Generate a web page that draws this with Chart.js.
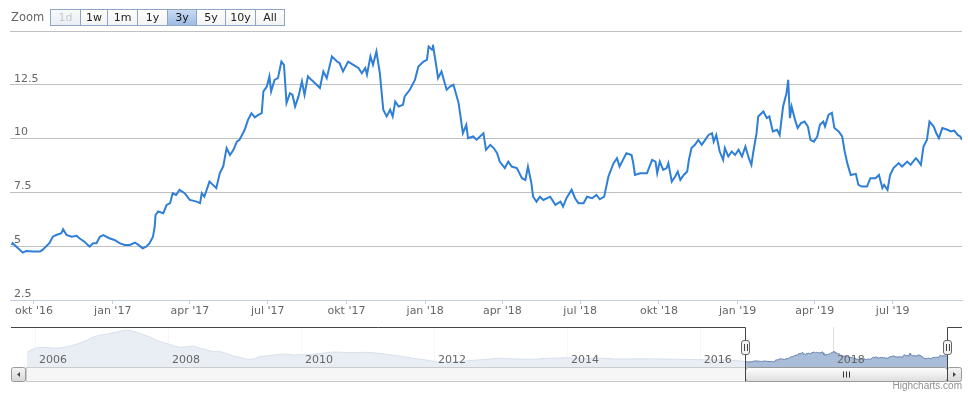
<!DOCTYPE html>
<html><head><meta charset="utf-8">
<script src="https://cdn.jsdelivr.net/npm/chart.js@4/dist/chart.umd.min.js"></script>
<style>
html,body{margin:0;padding:0;background:#fff;}
#wrap{position:relative;width:968px;height:393px;overflow:hidden;font-family:"DejaVu Sans",Verdana,sans-serif;}
#main{position:absolute;left:0;top:0;}
#nav{position:absolute;left:0;top:320px;}
#rs{position:absolute;left:0;top:0;width:400px;height:30px;z-index:2;}
#rs .lbl{position:absolute;left:11px;top:9px;font-size:11.5px;color:#666;line-height:16px;}
#rs .btns{position:absolute;left:51px;top:9px;display:flex;}
#rs .b{box-sizing:border-box;height:17px;border:1px solid #8ea6c6;margin-left:-1px;font-size:11px;line-height:15px;text-align:center;color:#222;background:linear-gradient(#ffffff,#f3f3f3);}
#rs .b.dis{color:#c8c8c8;background:linear-gradient(#f7f9fc,#e9eef5);}
#rs .b.sel{background:linear-gradient(#c9dbf2,#9dbbe4);color:#111;}
#credits{position:absolute;right:6px;top:380px;font-family:"Liberation Sans",Arial,sans-serif;font-size:10px;color:#909090;}
</style>
</head><body>
<div id="wrap">
  <canvas id="main" width="968" height="320"></canvas>
  <canvas id="nav" width="968" height="73"></canvas>
  <div id="rs"><span class="lbl">Zoom</span><div class="btns" id="btns"></div></div>
  <div id="credits">Highcharts.com</div>
</div>
<script>
// ---------- data ----------
const zoomButtons = ['1d','1w','1m','1y','3y','5y','10y','All'];
const monthNames = ['jan','feb','mar','apr','mai','jun','jul','aug','sep','okt','nov','des'];

const dates = [
'2016-09-05','2016-09-06','2016-09-18','2016-09-22','2016-09-30','2016-10-08','2016-10-11','2016-10-19','2016-10-23','2016-10-27',
'2016-11-02','2016-11-04','2016-11-08','2016-11-14','2016-11-20','2016-11-23','2016-11-29','2016-12-05','2016-12-09','2016-12-13',
'2016-12-17','2016-12-21','2016-12-28','2017-01-03','2017-01-09','2017-01-15','2017-01-21','2017-01-27','2017-01-31','2017-02-05',
'2017-02-09','2017-02-13','2017-02-17','2017-02-19','2017-02-20','2017-02-23','2017-03-01','2017-03-05','2017-03-09','2017-03-12',
'2017-03-16','2017-03-20','2017-03-26','2017-04-01','2017-04-09','2017-04-13','2017-04-15','2017-04-18','2017-04-24','2017-04-28',
'2017-05-02','2017-05-06','2017-05-10','2017-05-14','2017-05-18','2017-05-22','2017-05-26','2017-05-29','2017-06-04','2017-06-08',
'2017-06-12','2017-06-16','2017-06-20','2017-06-24','2017-06-26','2017-06-30','2017-07-03','2017-07-05','2017-07-09','2017-07-13',
'2017-07-17','2017-07-20','2017-07-23','2017-07-27','2017-07-30','2017-08-02','2017-08-06','2017-08-10','2017-08-13','2017-08-17',
'2017-08-21','2017-08-25','2017-08-31','2017-09-04','2017-09-08','2017-09-14','2017-09-20','2017-09-23','2017-09-27','2017-10-03',
'2017-10-09','2017-10-15','2017-10-19','2017-10-23','2017-10-25','2017-10-29','2017-11-01','2017-11-05','2017-11-09','2017-11-13',
'2017-11-17','2017-11-21','2017-11-24','2017-11-27','2017-12-01','2017-12-06','2017-12-08','2017-12-14','2017-12-20','2017-12-24',
'2017-12-30','2018-01-03','2018-01-05','2018-01-09','2018-01-10','2018-01-14','2018-01-16','2018-01-20','2018-01-26','2018-01-30',
'2018-02-03','2018-02-09','2018-02-14','2018-02-18','2018-02-20','2018-02-26','2018-03-02','2018-03-10','2018-03-13','2018-03-18',
'2018-03-22','2018-03-26','2018-03-29','2018-04-04','2018-04-08','2018-04-12','2018-04-18','2018-04-24','2018-04-28','2018-05-01',
'2018-05-05','2018-05-07','2018-05-11','2018-05-15','2018-05-19','2018-05-27','2018-06-02','2018-06-08','2018-06-11','2018-06-15',
'2018-06-21','2018-06-25','2018-06-29','2018-07-05','2018-07-09','2018-07-15','2018-07-20','2018-07-24','2018-07-29','2018-08-03',
'2018-08-09','2018-08-13','2018-08-16','2018-08-20','2018-08-24','2018-08-30','2018-09-01','2018-09-03','2018-09-09','2018-09-17',
'2018-09-23','2018-09-27','2018-09-29','2018-10-02','2018-10-06','2018-10-10','2018-10-12','2018-10-16','2018-10-20','2018-10-23',
'2018-10-26','2018-10-30','2018-11-03','2018-11-05','2018-11-08','2018-11-12','2018-11-16','2018-11-20','2018-11-24','2018-11-28',
'2018-12-02','2018-12-04','2018-12-07','2018-12-11','2018-12-15','2018-12-17','2018-12-21','2018-12-25','2018-12-29','2019-01-02',
'2019-01-06','2019-01-10','2019-01-14','2019-01-17','2019-01-19','2019-01-23','2019-01-25','2019-01-31','2019-02-04','2019-02-07',
'2019-02-11','2019-02-16','2019-02-19','2019-02-23','2019-02-27','2019-03-01','2019-03-03','2019-03-05','2019-03-09','2019-03-12',
'2019-03-16','2019-03-20','2019-03-24','2019-03-27','2019-03-31','2019-04-04','2019-04-07','2019-04-11','2019-04-13','2019-04-17',
'2019-04-21','2019-04-24','2019-04-29','2019-05-03','2019-05-06','2019-05-09','2019-05-13','2019-05-19','2019-05-22','2019-05-26',
'2019-06-01','2019-06-05','2019-06-11','2019-06-15','2019-06-19','2019-06-21','2019-06-25','2019-06-28','2019-07-02','2019-07-08',
'2019-07-12','2019-07-18','2019-07-22','2019-07-28','2019-07-30','2019-08-03','2019-08-06','2019-08-10','2019-08-13','2019-08-18',
'2019-08-21','2019-08-24','2019-08-28','2019-09-03','2019-09-07','2019-09-11','2019-09-15','2019-09-18','2019-09-20'
];
const values = [
5.06,5.14,4.70,4.78,4.75,4.75,4.83,5.14,5.44,5.52,
5.60,5.79,5.52,5.44,5.48,5.37,5.21,4.98,5.14,5.14,
5.44,5.52,5.37,5.29,5.14,5.06,5.06,5.17,5.06,4.90,
4.98,5.14,5.44,5.90,6.45,6.61,6.53,6.92,7.00,7.46,
7.38,7.62,7.46,7.15,7.07,7.00,7.46,7.30,8.00,7.85,
7.70,8.39,8.70,9.56,9.24,9.48,9.86,9.94,10.40,10.87,
11.18,10.99,11.10,11.18,12.19,12.42,12.89,12.19,12.73,12.81,
13.58,13.43,11.65,12.11,12.03,11.49,11.96,12.66,12.03,12.89,
12.73,12.58,12.35,13.12,12.81,13.82,13.58,13.51,13.12,13.58,
13.43,13.28,13.04,13.28,12.97,13.82,13.43,14.05,13.04,11.34,
11.03,11.34,11.03,11.72,11.49,11.57,11.96,12.27,12.73,13.35,
13.58,13.66,14.28,14.13,14.36,13.35,12.81,13.12,12.27,12.42,
12.50,11.65,10.25,10.64,10.02,10.10,9.95,10.25,9.48,9.71,
9.56,9.32,8.93,8.63,8.93,8.70,8.63,8.16,8.08,8.70,
7.93,7.30,7.07,7.30,7.15,7.30,6.92,7.07,6.84,7.23,
7.62,7.23,7.00,7.00,7.30,7.23,7.38,7.18,7.30,8.24,
8.86,9.09,8.70,9.01,9.32,9.24,8.86,8.31,8.39,8.39,
9.01,8.93,8.39,8.93,8.55,8.63,8.86,8.00,8.24,8.47,
8.08,8.31,8.47,9.01,9.56,9.71,9.94,9.71,9.94,10.17,
10.25,9.86,10.17,9.40,9.01,9.56,9.17,9.40,9.24,9.48,
9.17,9.63,9.09,8.78,9.32,10.25,11.03,11.26,10.95,11.03,
10.33,10.41,10.17,11.49,12.11,12.73,10.95,11.49,10.87,10.49,
10.72,10.79,10.56,9.94,9.86,10.10,10.64,10.79,10.56,11.10,
11.20,10.49,10.33,10.10,9.40,8.86,8.31,8.36,7.85,7.77,
7.77,8.16,8.16,8.31,7.70,7.85,7.62,8.31,8.63,8.86,
8.70,8.93,8.78,9.09,9.01,8.78,9.63,9.94,10.79,10.56,
10.25,10.02,10.49,10.41,10.33,10.37,10.17,10.10,9.94
];

// long history shown in the navigator (before the main window)
const historyDates = [
'2005-11-17','2005-12-20','2006-01-15','2006-02-20','2006-03-28','2006-05-05','2006-06-28','2006-08-22','2006-10-16','2006-11-22',
'2006-12-28','2007-02-03','2007-03-12','2007-04-17','2007-05-12','2007-06-10','2007-07-17','2007-08-22','2007-09-27','2007-11-03',
'2007-12-09','2008-01-04','2008-02-03','2008-03-10','2008-04-16','2008-05-19','2008-06-28','2008-08-04','2008-09-06','2008-10-12',
'2008-11-18','2008-12-24','2009-01-30','2009-03-08','2009-04-13','2009-05-19','2009-06-24','2009-07-31','2009-09-06','2009-10-12',
'2009-11-18','2009-12-24','2010-01-30','2010-03-26','2010-06-25','2010-09-24','2010-12-24','2011-02-17','2011-04-13','2011-06-25',
'2011-09-06','2011-11-18','2012-01-30','2012-04-12','2012-06-24','2012-10-12','2012-12-24','2013-03-26','2013-06-25','2013-09-20',
'2014-01-01','2014-03-22','2014-06-21','2014-09-20','2014-12-20','2015-01-26','2015-05-16','2015-09-02','2016-01-04','2016-04-27',
'2016-07-27'
];
const historyValues = [
13.6,16.4,17.9,18.2,17.6,17.3,18.8,21.3,25.0,28.1,
29.6,30.5,31.8,33.3,34.2,33.6,31.8,29.6,27.5,24.4,
22.5,21.3,19.4,18.2,18.8,19.4,17.3,15.7,14.2,14.2,
12.6,10.2,8.9,7.1,7.4,9.5,10.2,11.1,11.7,12.0,
11.1,11.5,11.1,12.1,13.9,13.3,13.6,13.0,11.8,10.2,
8.1,6.5,4.3,4.6,5.6,7.1,8.0,7.4,7.1,8.0,
8.6,7.7,8.3,7.4,7.4,7.7,7.4,7.1,6.8,6.5,
5.9
];

const yTicks = [2.5,5,7.5,10,12.5,15];
const viewStart = '2016-09-03', viewEnd = '2019-09-20';
const navStart = '2005-11-12', navEnd = '2019-09-20';
const navYears = [2006,2008,2010,2012,2014,2016,2018];

// ---------- range selector ----------
const btnWidths = [31,28,31,31,30,30,31,30];
const btnBox = document.getElementById('btns');
zoomButtons.forEach((t,i)=>{
  const d=document.createElement('div');
  d.className='b'+(t==='1d'?' dis':'')+(t==='3y'?' sel':'');
  d.style.width=btnWidths[i]+'px';
  d.textContent=t;
  btnBox.appendChild(d);
});

// ---------- main chart ----------
const tMin = Date.parse(viewStart), tMax = Date.parse(viewEnd);
const points = dates.map((d,i)=>({x:Date.parse(d), y:values[i]}));
const FONT = '"DejaVu Sans", Verdana, sans-serif';

new Chart(document.getElementById('main'), {
  type:'line',
  data:{datasets:[{data:points, borderColor:'#2f7ed8', borderWidth:2, pointRadius:0, tension:0, fill:false}]},
  options:{
    responsive:false, animation:false, devicePixelRatio:1,
    layout:{padding:{left:10,right:6,top:31,bottom:0}},
    plugins:{legend:{display:false}, tooltip:{enabled:false}},
    scales:{
      x:{type:'linear', min:tMin, max:tMax,
        afterBuildTicks(scale){
          const t=[];
          for(let y=2016;y<=2019;y++) for(let m=0;m<12;m+=3){
            const v=Date.UTC(y,m,1); if(v>=tMin && v<=tMax) t.push({value:v});
          }
          scale.ticks=t;
        },
        afterFit(scale){ scale.height=20; },
        ticks:{autoSkip:false, maxRotation:0, padding:1, color:'#666', font:{family:FONT,size:11},
          callback(v){ const d=new Date(v); return monthNames[d.getUTCMonth()]+" '"+String(d.getUTCFullYear()).slice(2); }},
        grid:{drawOnChartArea:false, color:'#C0D0E0', tickLength:4},
        border:{color:'#C0D0E0', width:1}
      },
      y:{min:2.5, max:15, position:'left',
        afterBuildTicks(scale){ scale.ticks = yTicks.map(v=>({value:v})); },
        afterFit(scale){ scale.width=0; },
        ticks:{mirror:true, padding:4, labelOffset:-6, color:'#666', font:{family:FONT,size:11},
          callback(v){ return v===15 ? '' : String(v); }},
        grid:{color:'#C0C0C0', drawTicks:false},
        border:{display:false}
      }
    }
  }
});

// ---------- navigator ----------
const navPoints = historyDates.concat(dates).map((d,i)=>({x:Date.parse(d), y:historyValues.concat(values)[i]}));

function rr(ctx,x,y,w,h,r){ctx.beginPath();ctx.moveTo(x+r,y);ctx.lineTo(x+w-r,y);ctx.quadraticCurveTo(x+w,y,x+w,y+r);ctx.lineTo(x+w,y+h-r);ctx.quadraticCurveTo(x+w,y+h,x+w-r,y+h);ctx.lineTo(x+r,y+h);ctx.quadraticCurveTo(x,y+h,x,y+h-r);ctx.lineTo(x,y+r);ctx.quadraticCurveTo(x,y,x+r,y);ctx.closePath();}

const navPlugin = {
  id:'navDecor',
  beforeDatasetsDraw(chart){
    const {ctx, chartArea:a, scales:{x}} = chart;
    ctx.save(); ctx.strokeStyle='#e0e0e0'; ctx.lineWidth=1;
    navYears.forEach(yr=>{
      const px=Math.round(x.getPixelForValue(Date.UTC(yr,0,1)))+0.5;
      ctx.beginPath(); ctx.moveTo(px,a.top); ctx.lineTo(px,a.bottom); ctx.stroke();
    });
    ctx.restore();
  },
  afterDatasetsDraw(chart){
    const {ctx, chartArea:a, scales:{x}} = chart;
    const s0=Math.round(x.getPixelForValue(tMin)), s1=Math.round(x.getPixelForValue(tMax));
    ctx.save();
    ctx.fillStyle='rgba(255,255,255,0.75)';
    ctx.fillRect(a.left,a.top,s0-a.left,a.bottom-a.top);
    ctx.fillRect(s1,a.top,a.right-s1,a.bottom-a.top);
    ctx.fillStyle='#666'; ctx.font='11px '+FONT; ctx.textAlign='left'; ctx.textBaseline='alphabetic';
    navYears.forEach(yr=>{ const px=x.getPixelForValue(Date.UTC(yr,0,1)); ctx.fillText(String(yr),px+4,a.bottom-4); });
    const sbTop=a.bottom+0.5, sbH=14, lb=11, rbEnd=962;
    ctx.fillStyle='#f6f6f6'; ctx.fillRect(a.left,sbTop,a.right-a.left,sbH);
    ctx.strokeStyle='#cccccc'; ctx.lineWidth=1; ctx.strokeRect(a.left+0.5,sbTop,a.right-a.left-1,sbH);
    function btn(bx,dir){
      const g=ctx.createLinearGradient(0,sbTop,0,sbTop+sbH); g.addColorStop(0,'#f4f4f4'); g.addColorStop(1,'#d8d8d8');
      rr(ctx,bx+0.5,sbTop,14,sbH,2); ctx.fillStyle=g; ctx.fill(); ctx.strokeStyle='#999'; ctx.stroke();
      const cx=bx+7.5, cy=sbTop+sbH/2; ctx.beginPath();
      if(dir<0){ctx.moveTo(cx-1.5,cy);ctx.lineTo(cx+1.5,cy-2.5);ctx.lineTo(cx+1.5,cy+2.5);}
      else{ctx.moveTo(cx+1.5,cy);ctx.lineTo(cx-1.5,cy-2.5);ctx.lineTo(cx-1.5,cy+2.5);}
      ctx.closePath(); ctx.fillStyle='#444'; ctx.fill();
    }
    btn(lb,-1); btn(rbEnd-15,1);
    const g2=ctx.createLinearGradient(0,sbTop,0,sbTop+sbH); g2.addColorStop(0,'#ffffff'); g2.addColorStop(1,'#dddddd');
    rr(ctx,s0+0.5,sbTop,s1-s0,sbH,3); ctx.fillStyle=g2; ctx.fill(); ctx.strokeStyle='#999'; ctx.stroke();
    const cx=Math.round((s0+s1)/2)+0.5; ctx.strokeStyle='#333'; ctx.beginPath();
    [-3,0,3].forEach(o=>{ctx.moveTo(cx+o,sbTop+4);ctx.lineTo(cx+o,sbTop+sbH-4);}); ctx.stroke();
    ctx.strokeStyle='#444'; ctx.lineWidth=1; ctx.beginPath();
    ctx.moveTo(lb,a.top+0.5); ctx.lineTo(s0+0.5,a.top+0.5); ctx.lineTo(s0+0.5,sbTop+sbH);
    ctx.moveTo(s1+0.5,sbTop+sbH); ctx.lineTo(s1+0.5,a.top+0.5); ctx.lineTo(rbEnd,a.top+0.5); ctx.stroke();
    [s0,s1].forEach(p=>{
      rr(ctx,p-3.5,a.top+13.5,8,14,2.5); ctx.fillStyle='#f2f2f2'; ctx.fill(); ctx.strokeStyle='#666'; ctx.stroke();
      ctx.strokeStyle='#444'; ctx.beginPath(); ctx.moveTo(p-0.5,a.top+17); ctx.lineTo(p-0.5,a.top+24); ctx.moveTo(p+2.5,a.top+17); ctx.lineTo(p+2.5,a.top+24); ctx.stroke();
    });
    ctx.restore();
  }
};

new Chart(document.getElementById('nav'), {
  type:'line',
  data:{datasets:[{data:navPoints, borderColor:'#6683b0', borderWidth:1, backgroundColor:'#a9bcd8', fill:'start', pointRadius:0, tension:0}]},
  options:{
    responsive:false, animation:false, devicePixelRatio:1,
    layout:{padding:{left:26,right:21,top:7,bottom:26}},
    plugins:{legend:{display:false}, tooltip:{enabled:false}},
    scales:{
      x:{type:'linear', display:false, min:Date.parse(navStart), max:Date.parse(navEnd)},
      y:{display:false, min:0, max:37}
    }
  },
  plugins:[navPlugin]
});
</script>
</body></html>
